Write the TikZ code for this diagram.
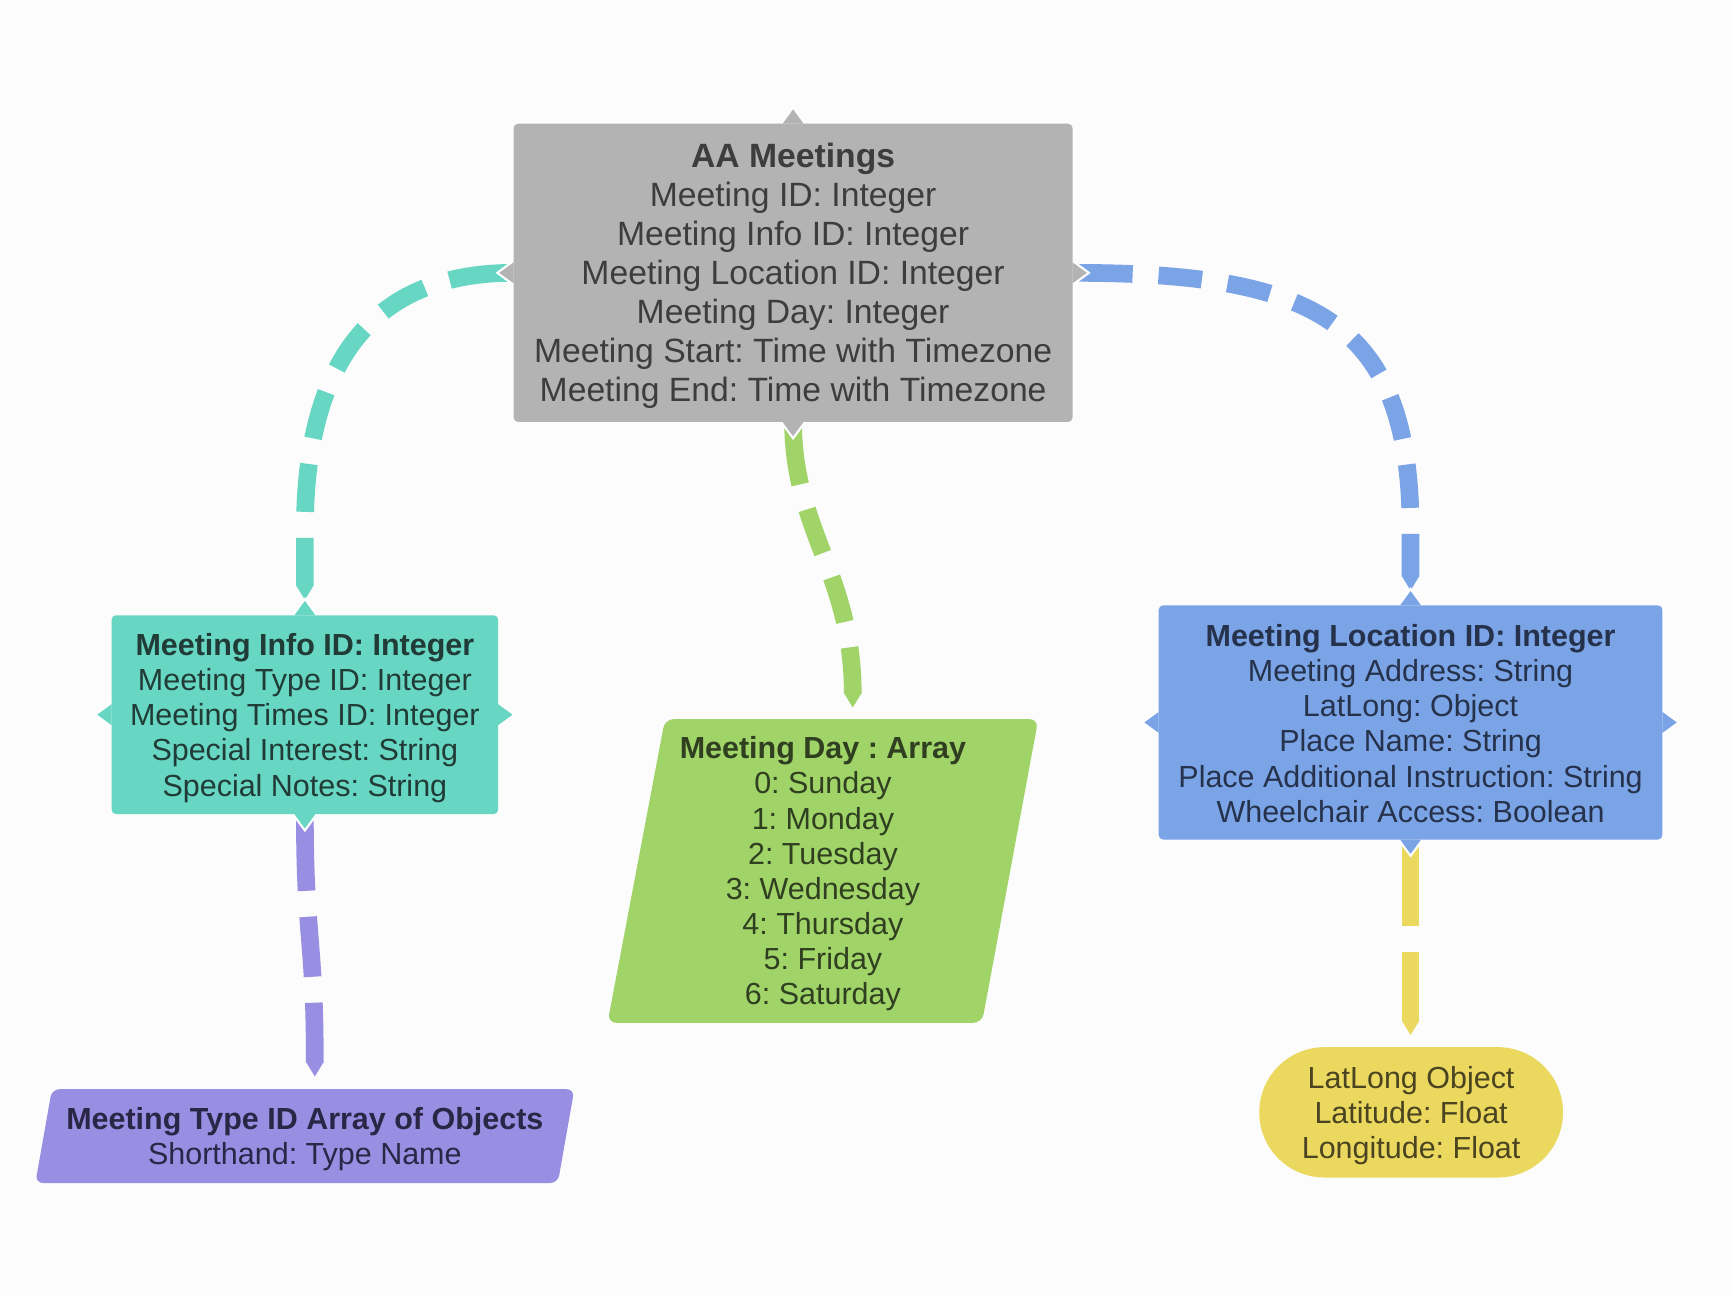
\documentclass[tikz,border=0pt]{standalone}
\usepackage{fontspec}
\setmainfont{Liberation Sans}
\frenchspacing
\usetikzlibrary{calc}
\definecolor{cAA}{HTML}{B3B3B3}
\definecolor{cInfo}{HTML}{67D6C3}
\definecolor{cLoc}{HTML}{7AA4E6}
\definecolor{cDay}{HTML}{A0D469}
\definecolor{cType}{HTML}{988FE3}
\definecolor{cLat}{HTML}{EBD85F}
\definecolor{tAA}{HTML}{3D3D3D}
\definecolor{tInfo}{HTML}{213B36}
\definecolor{tLoc}{HTML}{26324C}
\definecolor{tDay}{HTML}{2F3F20}
\definecolor{tType}{HTML}{2B2646}
\definecolor{tLat}{HTML}{4A4421}
\definecolor{bgc}{HTML}{FCFCFC}
\pgfdeclarelayer{bgl}
\pgfdeclarelayer{conl}
\pgfsetlayers{bgl,conl,main}
\newcommand{\portdown}[2]{%
  \fill[white] ($(#1)+(-12,0)$) -- ($(#1)+(0,16.4)$) -- ($(#1)+(12,0)$) -- cycle;
  \fill[#2] ($(#1)+(-9.5,0)$) -- ($(#1)+(0,13)$) -- ($(#1)+(9.5,0)$) -- cycle;}
\newcommand{\portup}[2]{%
  \fill[white] ($(#1)+(-12,0)$) -- ($(#1)+(0,-16.4)$) -- ($(#1)+(12,0)$) -- cycle;
  \fill[#2] ($(#1)+(-9.5,0)$) -- ($(#1)+(0,-13)$) -- ($(#1)+(9.5,0)$) -- cycle;}
\newcommand{\portleft}[2]{%
  \fill[white] ($(#1)+(0,-12)$) -- ($(#1)+(-16.4,0)$) -- ($(#1)+(0,12)$) -- cycle;
  \fill[#2] ($(#1)+(0,-9.5)$) -- ($(#1)+(-13,0)$) -- ($(#1)+(0,9.5)$) -- cycle;}
\newcommand{\portright}[2]{%
  \fill[white] ($(#1)+(0,-12)$) -- ($(#1)+(16.4,0)$) -- ($(#1)+(0,12)$) -- cycle;
  \fill[#2] ($(#1)+(0,-9.5)$) -- ($(#1)+(13,0)$) -- ($(#1)+(0,9.5)$) -- cycle;}
\newcommand{\tipdown}[2]{%
  \fill[#2] ($(#1)+(-8,-0.6)$) -- ($(#1)+(0,12.5)$) -- ($(#1)+(8,-0.6)$) -- cycle;}
\tikzset{
  box/.style={rectangle, rounded corners=4pt, inner sep=0pt, outer sep=0pt},
  label text/.style={align=center, inner sep=0pt, yshift=-3pt},
  bigtext/.style={font=\fontsize{30.5}{35.3}\selectfont},
  smalltext/.style={font=\fontsize{27.6}{31.75}\selectfont},
  conn/.style={line width=16pt},
}
\begin{document}
\begin{tikzpicture}[x=1pt,y=-1pt]
\begin{pgfonlayer}{bgl}
  \fill[bgc] (0,0) rectangle (1568,1173);
\end{pgfonlayer}
\useasboundingbox (0,0) rectangle (1568,1173);

% shapes
\node[box, fill=cAA, minimum width=506pt, minimum height=270pt] (aa) at (718,247) {};
\node[box, fill=cInfo, minimum width=350pt, minimum height=180pt] (info) at (276,647) {};
\node[box, fill=cLoc, minimum width=456pt, minimum height=212pt] (loc) at (1277,654) {};
\fill[cDay, rounded corners=8pt] (602,651) -- (940,651) -- (889,926) -- (550,926) -- cycle;
\fill[cType, rounded corners=7pt] (47,986) -- (520,986) -- (505,1071) -- (32,1071) -- cycle;
\node[box, rounded corners=59pt, fill=cLat, minimum width=275pt, minimum height=118pt] (lat) at (1277.5,1007) {};
\coordinate (daybox) at (745,788);
\coordinate (typebox) at (276,1028.5);

% texts
\node[label text, bigtext, text=tAA] (aatext) at (aa.center)
  {\textbf{AA Meetings}\\Meeting ID: Integer\\Meeting Info ID: Integer\\Meeting Location ID: Integer\\Meeting Day: Integer\\Meeting Start: Time with Timezone\\Meeting End: Time with Timezone};
\node[label text, smalltext, text=tInfo] (infotext) at (info.center)
  {\textbf{Meeting Info ID: Integer}\\Meeting Type ID: Integer\\Meeting Times ID: Integer\\Special Interest: String\\Special Notes: String};
\node[label text, smalltext, text=tLoc, yshift=2pt] (loctext) at (loc.center)
  {\textbf{Meeting Location ID: Integer}\\Meeting Address: String\\LatLong: Object\\Place Name: String\\Place Additional Instruction: String\\Wheelchair Access: Boolean};
\node[label text, smalltext, text=tDay] (day) at (daybox)
  {\textbf{Meeting Day : Array}\\0: Sunday\\1: Monday\\2: Tuesday\\3: Wednesday\\4: Thursday\\5: Friday\\6: Saturday};
\node[label text, smalltext, text=tType] (type) at (typebox)
  {\textbf{Meeting Type ID Array of Objects}\\Shorthand: Type Name};
\node[label text, smalltext, text=tLat] (lattext) at (lat.center)
  {LatLong Object\\Latitude: Float\\Longitude: Float};

% connector end points
\coordinate (infoin) at ($(info.north)+(0,-26.5)$);
\coordinate (locin) at ($(loc.north)+(0,-26)$);
\coordinate (dayin) at (772,628);
\coordinate (typein) at (285,962);
\coordinate (latin) at ($(lat.north)+(-0.5,-23.5)$);

\begin{pgfonlayer}{conl}
  % AA -> Info (teal)
  \draw[conn, cInfo, dash pattern=on 58.5pt off 23.5pt on 43.5pt off 23.5pt on 43.5pt off 23.5pt on 43.5pt off 23.5pt on 43.5pt off 23.5pt on 80pt off 200pt]
    (aa.west) .. controls (345,247) and (276,318) .. (276,480) -- (infoin);
  \tipdown{infoin}{cInfo}
  % AA -> Location (blue)
  \draw[conn, cLoc, dash pattern=on 54.4pt off 23.5pt on 39.4pt off 23.5pt on 39.4pt off 23.5pt on 39.4pt off 23.5pt on 39.4pt off 23.5pt on 39.4pt off 23.5pt on 39.4pt off 23.5pt on 80pt off 200pt]
    (aa.east) .. controls (1190,247) and (1277,290) .. (1277,480) -- (locin);
  \tipdown{locin}{cLoc}
  % AA -> Day (green)
  \draw[conn, cDay, dash pattern=on 57pt off 23.5pt on 42pt off 23.5pt on 42pt off 23.5pt on 80pt off 200pt]
    (aa.south) .. controls (718,480) and (772,520) .. (dayin);
  \tipdown{dayin}{cDay}
  % Info -> Type (purple)
  \draw[conn, cType, dash pattern=on 69.5pt off 23.5pt on 54.5pt off 23.5pt on 90pt off 200pt]
    (info.south) .. controls (276,850) and (285,850) .. (typein);
  \tipdown{typein}{cType}
  % Location -> LatLong (yellow)
  \draw[conn, cLat, dash pattern=on 78pt off 23.5pt on 100pt off 200pt]
    (loc.south) -- (latin);
  \tipdown{latin}{cLat}

  % ports
  \portup{aa.north}{cAA}
  \portdown{aa.south}{cAA}
  \portleft{aa.west}{cAA}
  \portright{aa.east}{cAA}
  \portup{info.north}{cInfo}
  \portdown{info.south}{cInfo}
  \portleft{info.west}{cInfo}
  \portright{info.east}{cInfo}
  \portup{loc.north}{cLoc}
  \portdown{loc.south}{cLoc}
  \portleft{loc.west}{cLoc}
  \portright{loc.east}{cLoc}
\end{pgfonlayer}
\end{tikzpicture}
\end{document}
